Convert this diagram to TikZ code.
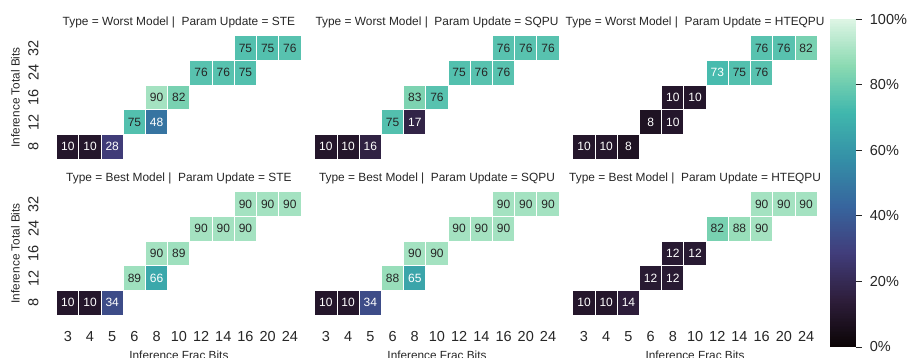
\documentclass[tikz,border=0pt]{standalone}
\usepackage{fontspec}
\setmainfont{Liberation Sans}
\definecolor{txt}{HTML}{262626}

% piecewise-linear "mako" colour map, value in percent -> colour #2
\newcommand\setmako[2]{%
  \pgfmathsetmacro\mkv{max(0,min(99.999,#1))*0.07}%
  \pgfmathtruncatemacro\mks{floor(\mkv)}%
  \pgfmathtruncatemacro\mksn{\mks+1}%
  \pgfmathsetmacro\mkt{\mkv-\mks}%
  \pgfmathtruncatemacro\mkr{round({11,46,65,55,52,64,139,222}[\mks]*(1-\mkt)+{11,46,65,55,52,64,139,222}[\mksn]*\mkt)}%
  \pgfmathtruncatemacro\mkg{round({4,30,61,101,143,183,218,245}[\mks]*(1-\mkt)+{4,30,61,101,143,183,218,245}[\mksn]*\mkt)}%
  \pgfmathtruncatemacro\mkb{round({5,59,123,158,167,173,178,229}[\mks]*(1-\mkt)+{5,59,123,158,167,173,178,229}[\mksn]*\mkt)}%
  \definecolor{#2}{RGB}{\mkr,\mkg,\mkb}%
}

% one heat-map panel: #1 name, #2 left x, #3 top y, #4 title, #5 the 13 cell values
\newcommand\heatpanel[5]{%
  \node[paneltitle] (#1-t) at ({#2+122.2},{#3-9.7}) {#4};
  \foreach \v [count=\k from 0] in {#5} {
    \pgfmathtruncatemacro\cc{{8,9,10,6,7,8,4,5,3,4,0,1,2}[\k]}
    \pgfmathtruncatemacro\rr{{0,0,0,1,1,1,2,2,3,3,4,4,4}[\k]}
    \setmako{\v}{mk}
    \ifnum\v<74 \def\tc{white}\else\def\tc{txt}\fi
    \node[cell, fill=mk, text=\tc] (#1-\k) at ({#2+(\cc+0.5)*22.21},{#3+(\rr+0.5)*24.7}) {\v};
  }
}

\begin{document}
\begin{tikzpicture}[x=1pt,y=-1pt,
  cell/.style={draw=white, line width=1pt, minimum width=22.21pt, minimum height=24.7pt,
    inner sep=0pt, font=\fontsize{12}{14}\selectfont},
  paneltitle/.style={anchor=base, text=txt, inner sep=0pt, font=\fontsize{11.9}{14}\selectfont},
  ticklab/.style={text=txt, inner sep=0pt, font=\fontsize{14.5}{17}\selectfont},
  axlab/.style={text=txt, inner sep=0pt, font=\fontsize{11.8}{14}\selectfont},
  cbtick/.style={draw=txt, line width=0.9pt}]

\useasboundingbox (0,0) rectangle (909,358);
\clip (0,0) rectangle (909,358);

% panels
\heatpanel{ws}{56.7}{35.7}{Type = Worst Model |\ \ Param Update = STE}{75,75,76,76,76,75,90,82,75,48,10,10,28}
\heatpanel{wq}{314.8}{35.7}{Type = Worst Model |\ \ Param Update = SQPU}{76,76,76,75,76,76,83,76,75,17,10,10,16}
\heatpanel{wh}{572.9}{35.7}{Type = Worst Model |\ \ Param Update = HTEQPU}{76,76,82,73,75,76,10,10,8,10,10,10,8}
\heatpanel{bs}{56.7}{191.7}{Type = Best Model |\ \ Param Update = STE}{90,90,90,90,90,90,90,89,89,66,10,10,34}
\heatpanel{bq}{314.8}{191.7}{Type = Best Model |\ \ Param Update = SQPU}{90,90,90,90,90,90,90,90,88,65,10,10,34}
\heatpanel{bh}{572.9}{191.7}{Type = Best Model |\ \ Param Update = HTEQPU}{90,90,90,82,88,90,12,12,12,12,10,10,14}

% y tick labels and axis labels (left column)
\foreach \top/\p in {35.7/w,191.7/b} {
  \foreach \lab [count=\r from 0] in {32,24,16,12,8}
    \node[ticklab, rotate=90] (\p-y\r) at (33.5,{\top+(\r+0.5)*24.7}) {\lab};
  \node[axlab, rotate=90] (\p-ylab) at (15.5,{\top+61.75}) {Inference Total Bits};
}

% x tick labels and axis labels (bottom row)
\foreach \left/\p in {56.7/s,314.8/q,572.9/h} {
  \foreach \lab [count=\c from 0] in {3,4,5,6,8,10,12,14,16,20,24}
    \node[ticklab] (x\p\c) at ({\left+(\c+0.5)*22.21},336.7) {\lab};
  \node[axlab, anchor=base] (xlab\p) at ({\left+122.2},359.8) {Inference Frac Bits};
}

% colour bar, built from thin slices
\foreach \k in {0,...,199} {
  \setmako{\k/2+0.25}{cb}
  \fill[cb] (830,{347-\k*1.6385}) rectangle (855.7,{347-(\k+1)*1.6385-0.4});
}
\foreach \val [count=\i from 0] in {0,20,40,60,80,100} {
  \coordinate (cbt\i) at (855.7,{347-\val*3.277});
  \draw[cbtick] (cbt\i) -- ++(6.5,0);
  \node[ticklab, anchor=west] (cbl\i) at ([xshift=14pt]cbt\i) {\val\%};
}
\end{tikzpicture}
\end{document}
